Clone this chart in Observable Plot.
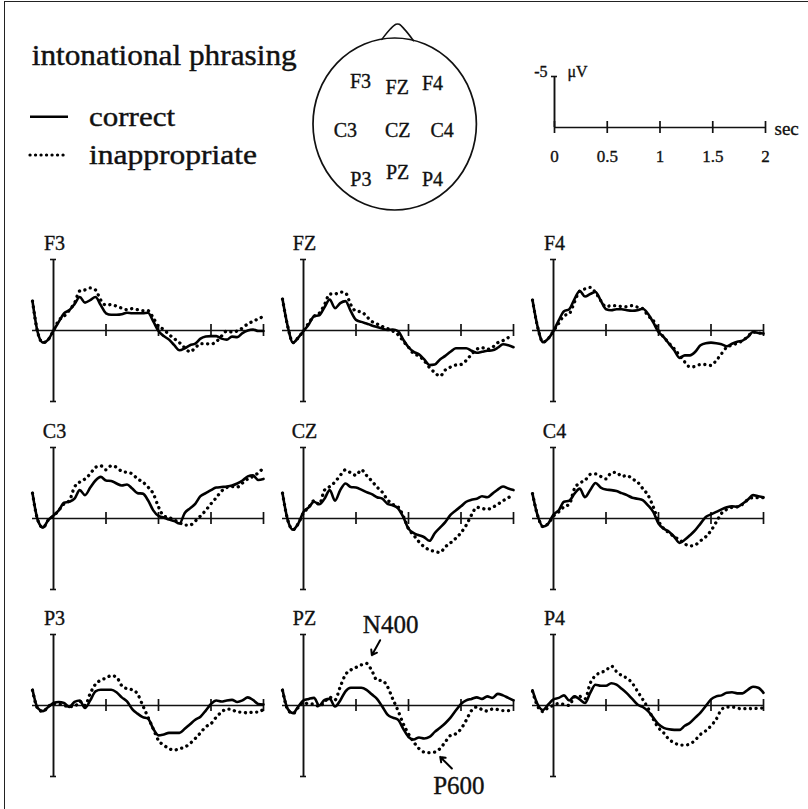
<!DOCTYPE html>
<html><head><meta charset="utf-8">
<script src="https://cdn.jsdelivr.net/npm/d3@7"></script>
<script src="https://cdn.jsdelivr.net/npm/@observablehq/plot@0.6"></script>
<style>
body{margin:0;background:#fff}
#fig{position:relative;width:808px;height:809px;background:#fff;overflow:hidden;font-family:"Liberation Serif","Times New Roman",serif}
#fig svg{position:absolute;overflow:visible}
#frame{position:absolute;left:4px;top:1px;width:820px;height:820px;border-left:1.5px solid #222;border-top:1.5px solid #222}
</style></head><body><div id="fig"><div id="frame"></div></div>
<script>
// ---------- data ----------
const time = [-0.2,-0.15,-0.1,-0.05,0,0.05,0.1,0.15,0.2,0.25,0.3,0.35,0.4,0.45,0.5,0.55,0.6,0.65,0.7,0.75,0.8,0.85,0.9,0.95,1.0,1.05,1.1,1.15,1.2,1.25,1.3,1.35,1.4,1.45,1.5,1.55,1.6,1.65,1.7,1.75,1.8,1.85,1.9,1.95,2.0];
const electrodes = ["F3","FZ","F4","C3","CZ","C4","P3","PZ","P4"];
const conditions = ["correct","inappropriate"];

const F3_correct = [-2.9,0.2,1.2,0.9,0,-0.85,-1.7,-2.0,-2.6,-3.3,-2.75,-3.0,-3.3,-2.5,-1.7,-1.55,-1.55,-1.6,-1.75,-1.7,-1.7,-1.7,-1.75,-0.9,0.05,0.55,0.9,1.45,1.95,1.75,1.45,1.3,0.8,0.6,0.55,0.55,0.8,0.9,0.6,0.65,0.25,0,-0.1,0.05,0.05];
const F3_inappropriate = [-2.9,0.2,1.2,0.9,0,-1.0,-1.4,-2.0,-2.7,-3.9,-4.0,-4.2,-4.0,-3.0,-2.5,-2.55,-2.4,-2.2,-2.05,-2.15,-2.05,-1.95,-1.95,-1.25,-0.4,-0.1,0.4,0.8,1.2,1.7,2.1,1.7,1.3,1.3,1.35,1.1,0.55,0.05,0.15,0.05,-0.25,-0.65,-0.9,-1.15,-1.4];
const FZ_correct = [-3.1,-0.4,1.2,0.7,0.05,-0.6,-1.4,-1.5,-2.3,-3.05,-2.2,-2.7,-2.9,-1.9,-1.05,-0.85,-0.7,-0.5,-0.35,-0.2,-0.05,-0.1,0.05,0.9,1.65,2.1,2.35,2.85,3.4,3.35,2.85,2.5,2.1,1.75,1.75,1.75,2.0,2.2,2.1,2.0,1.95,1.7,1.35,1.45,1.65];
const FZ_inappropriate = [-3.1,-0.4,1.2,0.7,0.05,-0.75,-1.4,-1.7,-2.55,-3.6,-3.6,-3.8,-3.7,-2.55,-1.9,-1.85,-1.4,-0.9,-0.65,-0.4,-0.2,0.05,0.4,1.05,1.65,2.3,2.5,3.0,3.65,4.15,4.5,3.9,3.6,3.4,3.35,2.95,2.35,1.85,1.7,1.85,1.65,1.2,1.0,0.7,0.55];
const F4_correct = [-3.0,-0.3,1.15,0.8,0.05,-1.0,-1.9,-2.1,-3.1,-3.9,-3.35,-3.6,-3.8,-2.95,-2.1,-2.0,-2.1,-2.1,-2.0,-1.95,-2.0,-2.15,-1.65,-0.8,0.15,0.65,1.3,1.95,2.7,2.45,2.45,2.1,1.45,1.25,1.2,1.25,1.35,1.55,1.3,1.1,1.0,0.65,0.15,0.25,0.3];
const F4_inappropriate = [-3.0,-0.3,1.15,0.8,0.05,-0.7,-1.45,-1.65,-2.8,-3.9,-4.1,-4.25,-3.75,-2.95,-2.35,-2.45,-2.45,-2.35,-2.35,-2.45,-2.3,-2.15,-1.45,-1.0,0,0.65,1.25,1.8,2.45,3.1,3.6,3.55,3.35,3.35,3.45,2.95,2.3,1.65,1.45,1.25,1.0,0.6,0.15,0.25,0.25];
const C3_correct = [-2.5,0.15,0.9,0.15,-0.3,-0.8,-1.55,-1.65,-1.95,-2.8,-2.3,-3.05,-3.75,-4.1,-3.75,-3.7,-3.45,-3.25,-3.35,-2.95,-2.5,-2.45,-1.8,-0.8,-0.25,-0.1,0.1,0.25,0.5,-0.55,-1.0,-1.45,-2.2,-2.5,-2.8,-3.05,-3.1,-3.15,-3.25,-3.45,-3.75,-4.15,-4.25,-3.8,-3.9];
const C3_inappropriate = [-2.5,0.15,0.9,0.15,-0.25,-0.8,-1.45,-1.75,-3.1,-3.6,-3.9,-4.4,-5.05,-5.2,-4.8,-5.2,-5.05,-4.65,-4.55,-4.4,-3.9,-3.6,-3.1,-2.45,-1.15,-0.25,-0.1,0.15,0.4,0.65,0.65,0.25,-0.25,-0.8,-1.45,-2.05,-2.7,-3.05,-3.15,-3.1,-3.5,-3.9,-4.15,-4.5,-5.0];
const CZ_correct = [-2.5,0.15,1.1,0.5,-0.65,-1.1,-1.65,-1.4,-1.95,-2.8,-1.75,-2.8,-3.45,-3.1,-3.05,-2.85,-2.6,-2.4,-2.1,-1.95,-1.45,-1.3,-1.0,-0.15,1.0,1.45,1.65,1.85,2.2,1.45,0.9,0.35,-0.35,-0.8,-1.2,-1.65,-1.85,-1.95,-2.2,-2.1,-2.45,-2.85,-3.15,-2.95,-2.8];
const CZ_inappropriate = [-2.5,0.15,1.1,0.5,-0.55,-1.1,-1.75,-1.4,-2.8,-3.15,-3.6,-4.25,-4.8,-4.5,-4.25,-4.8,-4.25,-3.7,-3.1,-2.6,-1.85,-1.4,-1.15,-0.25,1.0,1.65,2.3,2.8,3.1,3.25,3.35,2.8,2.4,1.95,1.4,0.65,-0.35,-1.1,-1.0,-0.9,-1.1,-1.4,-1.75,-2.05,-2.3];
const C4_correct = [-2.45,-0.25,0.8,0.5,-0.4,-0.8,-1.65,-1.75,-2.45,-2.95,-2.1,-2.8,-3.5,-3.05,-2.85,-2.8,-2.7,-2.5,-2.3,-2.05,-1.95,-1.8,-1.3,-0.65,0.5,1.0,1.3,1.8,2.4,2.1,1.65,1.15,0.5,-0.15,-0.4,-0.65,-0.9,-1.1,-1.2,-1.15,-1.45,-1.85,-2.3,-2.2,-2.1];
const C4_inappropriate = [-2.45,-0.25,0.8,0.5,-0.25,-0.65,-1.15,-1.4,-2.95,-3.5,-3.75,-4.35,-4.4,-4.15,-3.9,-4.5,-4.55,-4.15,-4.25,-3.9,-3.6,-2.95,-2.3,-1.15,0.25,1.0,1.4,1.8,2.1,2.5,2.7,2.6,2.2,1.8,1.2,0.35,-0.5,-0.9,-1.1,-1.15,-1.4,-1.85,-2.05,-2.05,-2.05];
const P3_correct = [-1.55,0.25,0.55,0.15,-0.25,-0.35,-0.25,0.15,-0.35,-0.5,0.25,-0.5,-1.4,-1.55,-1.55,-1.55,-1.3,-0.8,-0.4,0.35,0.8,1.15,1.3,2.3,2.95,2.85,2.7,2.7,2.7,2.3,1.85,1.4,1.1,0.5,-0.15,-0.5,-0.4,-0.5,-0.55,-0.35,-0.5,-0.8,-0.55,-0.15,-0.1];
const P3_inappropriate = [-1.5,0.3,0.6,0.1,-0.2,-0.15,0,0.1,0.1,-0.4,0,-1.2,-2.1,-2.5,-2.7,-2.95,-2.8,-1.95,-1.65,-1.55,-1.15,0,1.15,2.3,3.45,3.9,4.25,4.4,4.25,4.1,3.75,3.25,2.7,2.1,1.8,1.15,0.65,0.35,0.4,0.65,0.65,0.75,0.65,0.65,0.35];
const PZ_correct = [-1.55,0.35,0.75,0.1,-0.5,-0.65,-0.75,0,-0.55,-0.65,0.1,-0.5,-1.4,-1.75,-1.75,-1.75,-1.55,-1.1,-0.65,0.1,0.9,1.2,1.4,2.3,3.1,3.35,3.15,3.25,3.1,2.6,2.2,1.75,1.2,0.5,-0.15,-0.5,-0.65,-0.8,-0.65,-0.9,-0.75,-1.15,-1.0,-0.75,-0.5];
const PZ_inappropriate = [-1.5,0.4,0.8,0.2,-0.3,-0.15,-0.15,0.1,-0.35,-0.8,-0.55,-1.85,-3.05,-3.5,-3.75,-4.0,-4.15,-3.45,-2.5,-2.45,-1.85,-0.65,0.5,1.8,2.8,3.6,4.25,4.6,4.65,4.6,4.25,3.6,2.95,2.8,2.3,1.45,0.5,0.15,0.4,0.55,0.35,0.4,0.5,0.5,0.25];
const P4_correct = [-1.5,-0.1,0.45,-0.1,-0.6,-0.75,-1.0,-0.5,-0.9,-0.6,-0.25,-1.25,-2.05,-1.95,-1.95,-2.2,-2.05,-1.65,-1.2,-0.65,-0.1,0.15,0.55,1.2,1.85,2.2,2.35,2.4,2.4,2.0,1.7,1.2,0.7,0.05,-0.6,-0.9,-1.0,-1.25,-1.3,-1.2,-1.2,-1.55,-1.85,-1.75,-1.25];
const P4_inappropriate = [-1.4,0.1,0.6,0.2,0,-0.2,-0.1,0,-0.85,-0.9,-0.65,-2.2,-2.95,-3.25,-3.45,-3.9,-3.35,-2.95,-2.7,-2.2,-1.4,-0.6,0.25,1.35,2.2,2.7,3.35,3.65,3.9,3.9,3.8,3.4,2.85,2.5,2.0,1.35,0.4,0.15,0.15,0.25,0.35,0.25,0.35,0.25,0.25];

// axes / ticks
const voltRange = [-7, 7];           // μV, negative up
const panelTicks = [0.5, 1, 1.5, 2]; // s
const keyTicks = [0, 0.5, 1, 1.5, 2];
const keyTickLabels = ["0", "0.5", "1", "1.5", "2"];
const keyVolt = -5;

// annotations (PZ)
const annotLabels = ["N400", "P600"];
const annotT = [0.83, 1.48];
const annotV = [-7.9, 7.9];
const arrowFromT = [0.73, 1.413];
const arrowFromV = [-6.44, 6.21];
const arrowToT = [0.651, 1.302];
const arrowToV = [-4.96, 5.07];

// head diagram
const headLabels = ["F3","FZ","F4","C3","CZ","C4","P3","PZ","P4"];
const headX = [-0.425, 0.025, 0.456, -0.61, 0.03, 0.575, -0.42, 0.03, 0.456];
const headY = [0.5, 0.43, 0.48, -0.07, -0.07, -0.07, -0.635, -0.557, -0.635];
const noseX = [-0.163, -0.06, 0.01, 0.05, 0.12, 0.224];
const noseY = [0.99, 1.11, 1.165, 1.165, 1.1, 0.975];

// ---------- build ----------
const series = {
  F3: [F3_correct, F3_inappropriate], FZ: [FZ_correct, FZ_inappropriate], F4: [F4_correct, F4_inappropriate],
  C3: [C3_correct, C3_inappropriate], CZ: [CZ_correct, CZ_inappropriate], C4: [C4_correct, C4_inappropriate],
  P3: [P3_correct, P3_inappropriate], PZ: [PZ_correct, PZ_inappropriate], P4: [P4_correct, P4_inappropriate]
};
const fig = document.getElementById("fig");
const FONT = "Liberation Serif, Times New Roman, serif";
const INK = "#111";
const txt = {fontFamily: FONT, fill: INK, stroke: INK, strokeWidth: 0.35};
function place(el, left, top) { el.style.left = left + "px"; el.style.top = top + "px"; fig.appendChild(el); }

const colAxisX = [53.3, 303.3, 553];
const rowZeroY = [329.5, 518.3, 705.3];

electrodes.forEach((name, k) => {
  const col = k % 3, row = Math.floor(k / 3);
  const [corr, inap] = series[name];
  const rows = [];
  conditions.forEach((c, j) => {
    const vals = j === 0 ? corr : inap;
    time.forEach((t, i) => rows.push({t, v: vals[i], cond: c}));
  });
  const marks = [
    Plot.ruleY([0], {x1: time[0], x2: time[time.length - 1], stroke: INK, strokeWidth: 1.6}),
    Plot.ruleX([0], {y1: voltRange[0], y2: voltRange[1], stroke: INK, strokeWidth: 1.9}),
    Plot.ruleY(voltRange, {x1: 0, x2: 0, insetLeft: -3, insetRight: -3, stroke: INK, strokeWidth: 1.6}),
    Plot.ruleX(panelTicks, {y1: 0, y2: 0, insetTop: -6, insetBottom: -6, stroke: INK, strokeWidth: 1.7}),
    Plot.line(rows.filter(d => d.cond === "correct"), {x: "t", y: "v", stroke: "#000", strokeWidth: 2.6, curve: "monotone-x"}),
    Plot.line(rows.filter(d => d.cond === "inappropriate"), {x: "t", y: "v", stroke: "#000", strokeWidth: 3.3, strokeDasharray: "0.1 5.6", strokeLinecap: "round", curve: "monotone-x"}),
    Plot.text([name], {x: 0, y: voltRange[0], text: d => d, dy: -16, dx: 1, fontSize: 20, ...txt})
  ];
  if (name === "PZ") {
    marks.push(
      Plot.arrow(annotLabels, {x1: (d, i) => arrowFromT[i], y1: (d, i) => arrowFromV[i], x2: (d, i) => arrowToT[i], y2: (d, i) => arrowToV[i], stroke: "#000", strokeWidth: 2, headLength: 7, headAngle: 70}),
      Plot.text(annotLabels, {x: (d, i) => annotT[i], y: (d, i) => annotV[i], text: d => d, fontSize: 25, ...txt})
    );
  }
  const p = Plot.plot({
    width: 253, height: 207, marginLeft: 10, marginRight: 12, marginTop: 30, marginBottom: 35,
    x: {domain: [time[0], time[time.length - 1]], axis: null},
    y: {domain: voltRange, reverse: true, axis: null},
    style: {background: "transparent", overflow: "visible"},
    marks
  });
  place(p, colAxisX[col] - 31, rowZeroY[row] - 101);
});

// scale key
const key = Plot.plot({
  width: 281, height: 111, marginLeft: 30, marginRight: 40, marginTop: 15, marginBottom: 45,
  x: {domain: [keyTicks[0], keyTicks[keyTicks.length - 1]], axis: null},
  y: {domain: [keyVolt, 0], reverse: true, axis: null},
  style: {background: "transparent", overflow: "visible"},
  marks: [
    Plot.ruleY([0], {x1: keyTicks[0], x2: keyTicks[keyTicks.length - 1], stroke: INK, strokeWidth: 1.6}),
    Plot.ruleX([0], {y1: keyVolt, y2: 0, stroke: INK, strokeWidth: 1.9}),
    Plot.ruleY([keyVolt], {x1: 0, x2: 0, insetLeft: -3, insetRight: -3, stroke: INK, strokeWidth: 1.6}),
    Plot.ruleX(keyTicks, {y1: 0, y2: 0, insetTop: -6, insetBottom: -6, stroke: INK, strokeWidth: 1.7}),
    Plot.text(keyTicks, {x: d => d, y: 0, text: (d, i) => keyTickLabels[i], dy: 29, fontSize: 17, ...txt}),
    Plot.text(["sec"], {x: keyTicks[keyTicks.length - 1], y: 0, text: d => d, dx: 9, dy: 1, textAnchor: "start", fontSize: 19, ...txt}),
    Plot.text([String(keyVolt)], {x: 0, y: keyVolt, text: d => d, dx: -7, dy: -5, textAnchor: "end", fontSize: 16, ...txt}),
    Plot.text(["μV"], {x: 0, y: keyVolt, text: d => d, dx: 13, dy: -5, textAnchor: "start", fontSize: 16, ...txt})
  ]
});
place(key, 524.3, 61);

// head diagram
const head = Plot.plot({
  width: 203.4, height: 202, marginLeft: 20, marginRight: 20, marginTop: 20, marginBottom: 10,
  x: {domain: [-1, 1], axis: null},
  y: {domain: [-1, 1], axis: null},
  style: {background: "transparent", overflow: "visible"},
  marks: [
    (index, {x, y}) => {
      const e = document.createElementNS("http://www.w3.org/2000/svg", "ellipse");
      e.setAttribute("cx", x(0)); e.setAttribute("cy", y(0));
      e.setAttribute("rx", x(1) - x(0)); e.setAttribute("ry", y(-1) - y(0));
      e.setAttribute("fill", "none"); e.setAttribute("stroke", INK); e.setAttribute("stroke-width", 1.7);
      return e;
    },
    Plot.line(noseX, {x: d => d, y: (d, i) => noseY[i], curve: "catmull-rom", stroke: INK, strokeWidth: 1.6}),
    Plot.text(headLabels, {x: (d, i) => headX[i], y: (d, i) => headY[i], text: d => d, fontSize: 20, ...txt})
  ]
});
place(head, 293.3, 18);

// title + legend
const hdr = d3.create("svg").attr("width", 300).attr("height", 180).style("overflow", "visible");
hdr.append("text").attr("x", 31.7).attr("y", 65).attr("font-size", 29).attr("font-family", FONT).attr("fill", INK)
  .attr("stroke", INK).attr("stroke-width", 0.4)
  .attr("textLength", 265).attr("lengthAdjust", "spacingAndGlyphs").text("intonational phrasing");
const legendY = [116.7, 155];
const legendTextY = [126, 164];
const legendLen = [86, 168];
conditions.forEach((c, i) => {
  const ln = hdr.append("line").attr("x1", 30).attr("x2", 68).attr("y1", legendY[i]).attr("y2", legendY[i])
    .attr("stroke", "#000");
  if (i === 0) ln.attr("stroke-width", 2.6);
  else ln.attr("stroke-width", 3.2).attr("stroke-dasharray", "0.1 5.4").attr("stroke-linecap", "round");
  hdr.append("text").attr("x", 89).attr("y", legendTextY[i]).attr("font-size", 27).attr("font-family", FONT).attr("fill", INK)
    .attr("stroke", INK).attr("stroke-width", 0.4)
    .attr("textLength", legendLen[i]).attr("lengthAdjust", "spacingAndGlyphs").text(c);
});
place(hdr.node(), 0, 0);
</script></body></html>
